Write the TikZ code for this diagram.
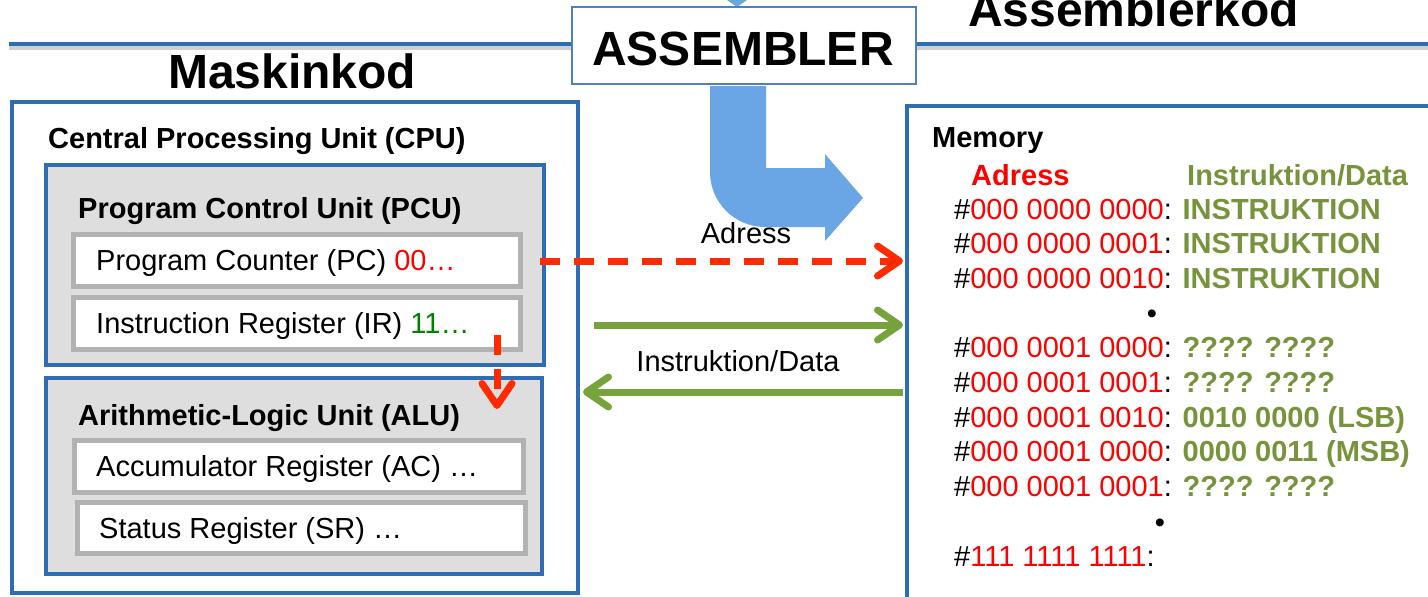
\documentclass[tikz,border=0pt]{standalone}
\usepackage{fontspec}
\setmainfont{Liberation Sans}
\usetikzlibrary{arrows.meta}
\definecolor{boxblue}{RGB}{46,109,180}
\definecolor{asmblue}{RGB}{79,129,189}
\definecolor{arrblue}{RGB}{106,166,230}
\definecolor{regfill}{RGB}{222,222,222}
\definecolor{reggrey}{RGB}{178,178,178}
\definecolor{arrred}{RGB}{255,42,0}
\definecolor{arrgreen}{RGB}{118,163,60}
\definecolor{txtgreen}{RGB}{119,147,60}
\definecolor{darkgreen}{RGB}{0,128,0}
\begin{document}
\begin{tikzpicture}[x=1pt,y=-1pt,
  bx/.style 2 args={minimum width=#1pt, minimum height=#2pt, inner sep=0pt, outer sep=0pt},
  unitbox/.style={draw=boxblue, line width=4pt, fill=regfill},
  regbox/.style={draw=reggrey, line width=5pt, fill=white},
  bigtitle/.style={anchor=base west, inner sep=0pt, font=\fontsize{48}{56}\selectfont\bfseries},
  hd/.style={anchor=base west, inner sep=0pt, font=\fontsize{29}{34}\selectfont\bfseries},
  rg/.style={anchor=base west, inner sep=0pt, font=\fontsize{29}{34}\selectfont},
  redarr/.style={draw=arrred, line width=7pt, dash pattern=on 20pt off 14pt,
    -{Straight Barb[length=22pt,width=30pt,round]}},
  greenarr/.style={draw=arrgreen, line width=7pt,
    -{Straight Barb[length=22pt,width=30pt,round]}}
]
\useasboundingbox (0,0) rectangle (1428,597);
\fill[white] (0,0) rectangle (1428,597);
\clip (0,0) rectangle (1428,597);

% top rule with shadow
\draw[black!30, line width=4pt, opacity=0.6] (9,47.5) -- (1428,47.5);
\draw[boxblue, line width=3.5pt] (9,44) -- (1428,44);

% small arrow tip at top
\fill[arrblue] (727,0) -- (747,0) -- (737,7) -- cycle;

% ASSEMBLER box
\node[bx={344}{77}, draw=asmblue, line width=2pt, fill=white] (asm) at (744,45.5) {};
\node[anchor=base, inner sep=0pt, font=\fontsize{48}{56}\selectfont\bfseries] (asmtxt) at (743,65) {ASSEMBLER};

% titles
\node[bigtitle] (maskin) at (168,88) {Maskinkod};
\node[bigtitle] (asmkod) at (968,27) {Assemblerkod};

% bent block arrow
\fill[arrblue] (710,86) -- (766,86) -- (766,168) -- (825,168) -- (825,154) -- (863,198)
  -- (825,241) -- (825,227) -- (765,227) .. controls (734.6,227) and (710,202.4) .. (710,172) -- cycle;

% CPU
\node[bx={566}{491}, draw=boxblue, line width=4pt] (cpu) at (295,347.5) {};
\node[hd] (cputxt) at (48,148) {Central Processing Unit (CPU)};
\node[bx={498}{200}, unitbox] (pcu) at (295,265) {};
\node[hd] (pcutxt) at (78,218) {Program Control Unit (PCU)};
\node[bx={447}{52}, regbox] (pc) at (296.5,260) {};
\node[rg] (pctxt) at (96,270) {Program Counter (PC) \textcolor{red}{00…}};
\node[bx={447}{52}, regbox] (ir) at (296.5,323) {};
\node[rg] (irtxt) at (96,333) {Instruction Register (IR) \textcolor{darkgreen}{11…}};
\node[bx={496}{196}, unitbox] (alu) at (294,476) {};
\node[hd] (alutxt) at (78,425) {Arithmetic-Logic Unit (ALU)};
\node[bx={449}{52}, regbox] (ac) at (298.5,466) {};
\node[rg] (actxt) at (96,476) {Accumulator Register (AC) …};
\node[bx={448}{51}, regbox] (sr) at (301,527.5) {};
\node[rg] (srtxt) at (99,538) {Status Register (SR) …};

% Memory
\node[bx={543}{514}, draw=boxblue, line width=4pt] (mem) at (1178.5,363) {};
\node[hd] (memtxt) at (932,147) {Memory};
\node[hd, text=red] (adrhd) at (971,185) {Adress};
\node[hd, text=txtgreen] (datahd) at (1187,185) {Instruktion/Data};
\node[rg] (r1) at (954,219) {\#\textcolor{red}{000 0000 0000}: \textcolor{txtgreen}{\bfseries INSTRUKTION}};
\node[rg] (r2) at (954,253.7) {\#\textcolor{red}{000 0000 0001}: \textcolor{txtgreen}{\bfseries INSTRUKTION}};
\node[rg] (r3) at (954,288.4) {\#\textcolor{red}{000 0000 0010}: \textcolor{txtgreen}{\bfseries INSTRUKTION}};
\node[rg, anchor=base] (b1) at (1152,323) {•};
\node[rg] (r4) at (954,357.8) {\#\textcolor{red}{000 0001 0000}: \textcolor{txtgreen}{\bfseries ???? ????}};
\node[rg] (r5) at (954,392.5) {\#\textcolor{red}{000 0001 0001}: \textcolor{txtgreen}{\bfseries ???? ????}};
\node[rg] (r6) at (954,427.2) {\#\textcolor{red}{000 0001 0010}: \textcolor{txtgreen}{\bfseries 0010 0000 (LSB)}};
\node[rg] (r7) at (954,461.9) {\#\textcolor{red}{000 0001 0000}: \textcolor{txtgreen}{\bfseries 0000 0011 (MSB)}};
\node[rg] (r8) at (954,496.6) {\#\textcolor{red}{000 0001 0001}: \textcolor{txtgreen}{\bfseries ???? ????}};
\node[rg, anchor=base] (b2) at (1160,532) {•};
\node[rg] (r9) at (954,566) {\#\textcolor{red}{111 1111 1111}:};

% connectors
\coordinate (pcout) at (540,261);
\coordinate (irdown) at (497,335);
\coordinate (aluin) at (497,409);
\coordinate (grA) at (594,325);
\coordinate (grB) at (583,392);
\draw[redarr, shorten >=4pt] (pcout) -- (mem.west |- pcout);
\draw[redarr] (irdown) -- (aluin);
\draw[greenarr, shorten >=4pt] (grA) -- (mem.west |- grA);
\draw[greenarr, shorten <=4pt] (mem.west |- grB) -- (grB);

\node[rg, anchor=base] (adrlbl) at (746,243) {Adress};
\node[rg, anchor=base] (idlbl) at (738,371) {Instruktion/Data};
\end{tikzpicture}
\end{document}
